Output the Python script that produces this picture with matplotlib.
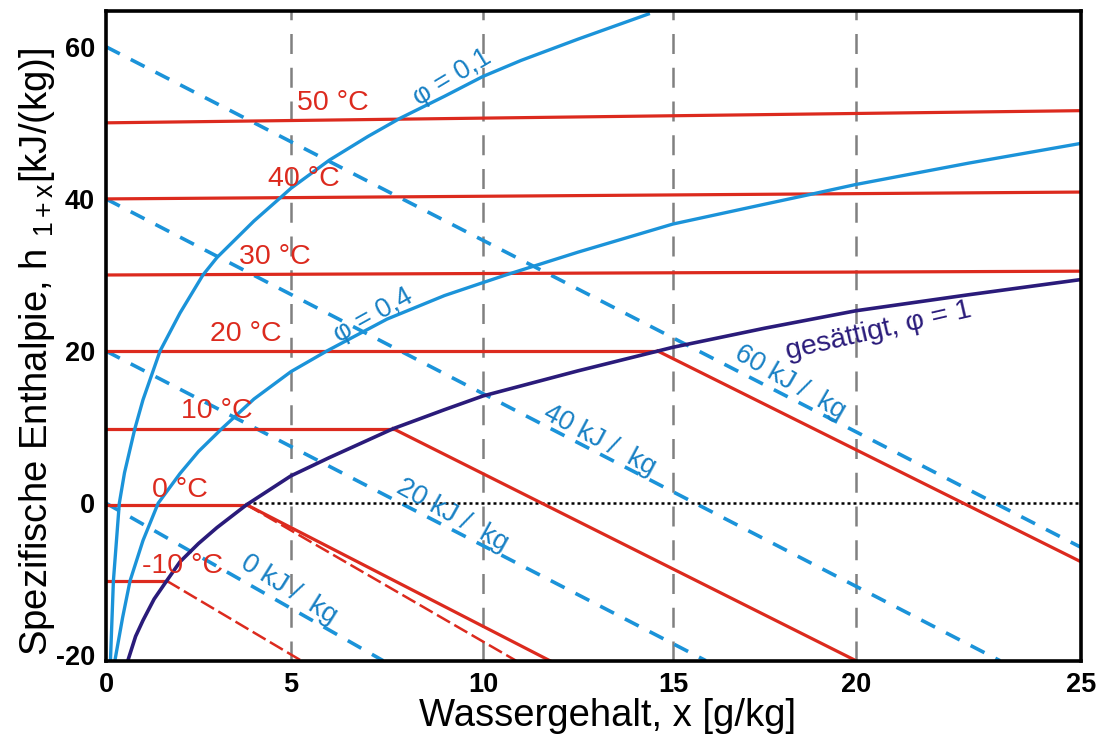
import numpy as np
import matplotlib
matplotlib.use("Agg")
import matplotlib.pyplot as plt

plt.rcParams['font.family'] = ['Liberation Sans', 'DejaVu Sans']
plt.rcParams['mathtext.fontset'] = 'custom'
plt.rcParams['mathtext.rm'] = 'Liberation Sans'
plt.rcParams['mathtext.it'] = 'Liberation Sans:italic'
plt.rcParams['axes.unicode_minus'] = False

# ---------------- data ----------------
# isotherms (°C): horizontal part from x=0 to x_end
iso_temps = [-10, 0, 10, 20, 30, 40, 50]
iso_y_start = [-10.2, -0.2, 9.8, 20.0, 30.0, 40.0, 50.0]
iso_x_end = [1.64, 3.8, 7.66, 14.6, 25.0, 25.0, 25.0]
iso_y_end = [-10.2, -0.2, 9.8, 20.0, 30.5, 40.9, 51.6]

# fog isotherms (liquid water) starting at saturation corner
fog_x_start = [3.8, 7.66, 14.6]
fog_y_start = [-0.2, 9.8, 20.0]
fog_x_end = [11.76, 20.0, 25.0]
fog_y_end = [-20.7, -20.7, -7.7]

# ice fog isotherms (dashed)
ice_x_start = [1.64, 3.8]
ice_y_start = [-10.2, -0.2]
ice_x_end = [5.27, 10.87]
ice_y_end = [-20.7, -20.7]

# lines of constant enthalpy (kJ/kg)
h_values = [0, 20, 40, 60]
h_x_end = [7.4, 15.9, 23.2, 25.0]
h_y_end = [-20.7, -20.7, -20.7, -5.8]

# relative humidity curves
phi01_x = [0.12, 0.2, 0.36, 0.5, 0.78, 1.0, 1.46, 2.0, 2.62, 3.0, 3.5, 4.0, 4.7,
           5.0, 6.0, 7.0, 7.84, 9.0, 10.0, 11.0, 12.5, 14.35]
phi01_y = [-20.7, -10.2, 0.0, 4.0, 9.8, 13.6, 20.0, 25.0, 30.0, 32.3, 34.7, 37.1,
           40.1, 41.4, 45.1, 48.2, 50.6, 53.5, 56.1, 58.2, 61.0, 64.3]
phi04_x = [0.24, 0.45, 0.65, 1.0, 1.41, 2.0, 2.5, 3.13, 4.0, 5.0, 5.93, 7.5, 9.0,
           10.0, 10.6, 12.5, 15.0, 17.5, 18.76, 20.0, 22.5, 25.0]
phi04_y = [-20.7, -15.0, -10.2, -4.9, 0.0, 3.9, 6.8, 9.8, 13.7, 17.3, 20.0, 24.2,
           27.3, 29.0, 30.0, 33.0, 36.7, 39.3, 40.6, 41.9, 44.7, 47.3]
sat_x = [0.59, 0.8, 1.0, 1.3, 1.64, 2.0, 2.5, 3.0, 3.8, 5.0, 6.0, 7.66, 9.0, 10.0,
         12.5, 14.6, 15.0, 17.5, 20.0, 22.5, 25.0]
sat_y = [-20.7, -17.5, -15.4, -12.6, -10.2, -7.7, -5.3, -3.2, -0.2, 3.6, 6.0, 9.8,
         12.3, 14.1, 17.4, 20.0, 20.5, 23.0, 25.3, 27.4, 29.4]

# zero line
zero_x = [3.8, 25.0]
zero_y = [0.0, 0.0]

# label positions
iso_labels = ["-10 °C", "0 °C", "10 °C", "20 °C", "30 °C", "40 °C", "50 °C"]
iso_label_x = [2.07, 2.0, 3.0, 3.78, 4.57, 5.33, 6.1]
iso_label_y = [-8.3, 1.8, 12.1, 22.2, 32.3, 42.6, 52.6]

h_labels = ["0 kJ /  kg", "20 kJ /  kg", "40 kJ /  kg", "60 kJ /  kg"]
h_label_x = [4.95, 9.19, 13.08, 18.2]
h_label_y = [-11.4, -1.6, 8.3, 15.9]
h_label_rot = [-32, -29, -28, -30]

phi_labels = ["φ = 0,1", "φ = 0,4", "gesättigt, φ = 1"]
phi_label_x = [9.19, 7.14, 20.5]
phi_label_y = [56.0, 24.7, 22.7]
phi_label_rot = [31, 29, 13]

x_ticks = [0, 5, 10, 15, 20, 25]
y_ticks = [-20, 0, 20, 40, 60]
grid_x = [5, 10, 15, 20]

# ---------------- axis scale (tick spacing as drawn in the original) ----------------
_SC_D = np.array([0.0, 5.0, 10.0, 15.0, 20.0, 25.0])
_SC_P = np.array([0.0, 185.0, 377.0, 567.0, 750.0, 975.0]) / 975.0 * 25.0


def _pw(v, a, b):
    v = np.asarray(v, dtype=float)
    out = np.interp(v, a, b)
    lo = b[0] + (v - a[0]) * (b[1] - b[0]) / (a[1] - a[0])
    hi = b[-1] + (v - a[-1]) * (b[-1] - b[-2]) / (a[-1] - a[-2])
    out = np.where(v < a[0], lo, out)
    out = np.where(v > a[-1], hi, out)
    return out


def fwd(v):
    return _pw(v, _SC_D, _SC_P)


def inv(v):
    return _pw(v, _SC_P, _SC_D)


# ---------------- style ----------------
RED = '#dc2a1e'
BLUE = '#1b93d9'
BLUE_TXT = '#1780c4'
NAVY = '#2a1b7a'
GREY = '#808080'

fig = plt.figure(figsize=(10.97, 7.44), dpi=100)
ax = fig.add_axes([106 / 1097, 1 - 660.7 / 744, (1081 - 106) / 1097, (660.7 - 11) / 744])
ax.set_xscale('function', functions=(fwd, inv))
ax.set_xlim(0, 25)
ax.set_ylim(-20.7, 64.7)

for gx in grid_x:
    ax.axvline(gx, color=GREY, lw=1.8, dashes=(8, 5.5), zorder=1)

# enthalpy lines
for h, xe, ye in zip(h_values, h_x_end, h_y_end):
    ax.plot([0, xe], [h, ye], color=BLUE, lw=2.6, dashes=(4.3, 3.4), zorder=2,
            dash_capstyle='butt')

# zero line
ax.plot(zero_x, zero_y, color='black', lw=1.8, dashes=(1.2, 1.2), zorder=3)

# isotherms
for ys, xe, ye in zip(iso_y_start, iso_x_end, iso_y_end):
    ax.plot([0, xe], [ys, ye], color=RED, lw=2.3, zorder=4)
for xs, ys, xe, ye in zip(fog_x_start, fog_y_start, fog_x_end, fog_y_end):
    ax.plot([xs, xe], [ys, ye], color=RED, lw=2.3, zorder=4)
for xs, ys, xe, ye in zip(ice_x_start, ice_y_start, ice_x_end, ice_y_end):
    ax.plot([xs, xe], [ys, ye], color=RED, lw=1.8, dashes=(6, 2), zorder=4)

# humidity curves
ax.plot(phi01_x, phi01_y, color=BLUE, lw=2.4, zorder=5, solid_joinstyle='round')
ax.plot(phi04_x, phi04_y, color=BLUE, lw=2.4, zorder=5, solid_joinstyle='round')
ax.plot(sat_x, sat_y, color=NAVY, lw=2.6, zorder=5, solid_joinstyle='round')

# labels
for t, lx, ly in zip(iso_labels, iso_label_x, iso_label_y):
    ax.text(lx, ly, t, color=RED, fontsize=20.5, ha='center', va='center', zorder=6)
for t, lx, ly, r in zip(h_labels, h_label_x, h_label_y, h_label_rot):
    ax.text(lx, ly, t, color=BLUE_TXT, fontsize=19.5, ha='center', va='center',
            rotation=r, rotation_mode='anchor', zorder=6)
for i, (t, lx, ly, r) in enumerate(zip(phi_labels, phi_label_x, phi_label_y, phi_label_rot)):
    ax.text(lx, ly, t, color=NAVY if i == 2 else BLUE_TXT,
            fontsize=20.5 if i == 2 else 19.5,
            ha='center', va='center', rotation=r, rotation_mode='anchor', zorder=6)

ax.set_xticks(x_ticks)
ax.set_xticklabels([str(v) for v in x_ticks])
ax.xaxis.set_minor_locator(matplotlib.ticker.NullLocator())
ax.set_yticks(y_ticks)
ax.tick_params(length=0, labelsize=19.5, pad=8)
for lab in ax.get_xticklabels() + ax.get_yticklabels():
    lab.set_fontweight('bold')
for s in ax.spines.values():
    s.set_linewidth(2.6)
    s.set_zorder(10)

ax.set_xlabel("Wassergehalt, x [g/kg]", fontsize=27.5)
ax.set_ylabel("Spezifische Enthalpie, h $_{\\mathregular{1+x}}$[kJ/(kg)]", fontsize=27.5)
ax.xaxis.set_label_coords(0.514, -0.058)
ax.yaxis.set_label_coords(-0.05, 0.475)

fig.savefig("out.png", dpi=100)
